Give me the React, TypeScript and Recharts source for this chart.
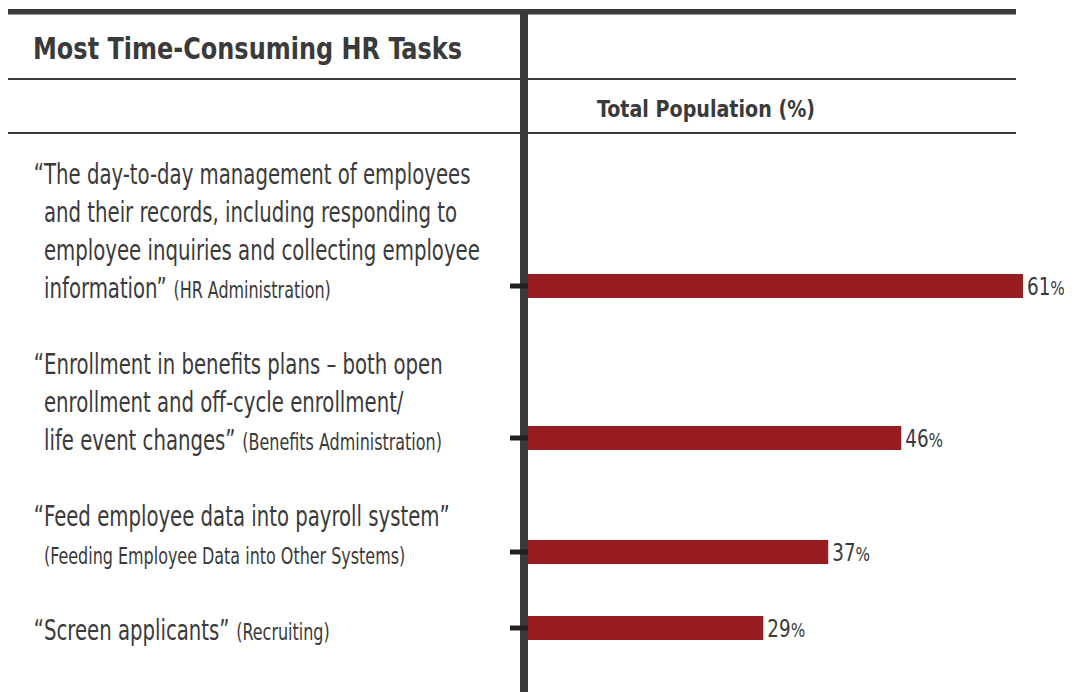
import React from "react";
import { BarChart, Bar, XAxis, YAxis, LabelList } from "recharts";

// ---- data ----
const chartTitle = "Most Time-Consuming HR Tasks";
const columnTitle = "Total Population (%)";
const taskQuotes: string[][] = [
  [
    "“The day-to-day management of employees",
    "and their records, including responding to",
    "employee inquiries and collecting employee",
    "information”",
  ],
  [
    "“Enrollment in benefits plans – both open",
    "enrollment and off-cycle enrollment/",
    "life event changes”",
  ],
  ["“Feed employee data into payroll system”", ""],
  ["“Screen applicants”"],
];
const taskCategories = [
  "(HR Administration)",
  "(Benefits Administration)",
  "(Feeding Employee Data into Other Systems)",
  "(Recruiting)",
];
const totalPopulation = [61, 46, 37, 29];

// ---- rows: one per text line, blank line between tasks ----
type Row = { key: string; main: string; sub: string; value: number | null };
const rows: Row[] = [];
taskQuotes.forEach((lines, i) => {
  lines.forEach((line, j) => {
    const last = j === lines.length - 1;
    rows.push({
      key: `t${i}l${j}`,
      main: line,
      sub: last ? taskCategories[i] : "",
      value: last ? totalPopulation[i] : null,
    });
  });
  if (i < taskQuotes.length - 1) rows.push({ key: `gap${i}`, main: "", sub: "", value: null });
});
const rowByKey = new Map(rows.map((r) => [r.key, r]));

const FONT =
  "'Liberation Sans Narrow', 'Arial Narrow', 'DejaVu Sans Condensed', 'Roboto Condensed', 'Liberation Sans', sans-serif";
const TEXT = "#3a3a3a";
const RULE = "#3a3a3a";
const BAR = "#981d20";
const SX = 0.755;
const MAIN_FS = 29;
const SUB_FS = 23.5;

function TaskTick(props: any) {
  const { y, payload } = props;
  const row = rowByKey.get(payload?.value);
  if (!row) return null;
  const hasQuote = row.main.startsWith("“");
  const main = hasQuote ? row.main.slice(1) : row.main;
  const baseY = Number(y) + 12;
  return (
    <g>
      {hasQuote && (
        <text
          transform={`translate(36, ${baseY}) scale(${SX},1)`}
          textAnchor="end"
          fontSize={MAIN_FS}
          fill={TEXT}
          fontFamily={FONT}
        >
          “
        </text>
      )}
      <text transform={`translate(36, ${baseY}) scale(${SX},1)`} fontSize={MAIN_FS} fill={TEXT} fontFamily={FONT}>
        {main}
        {row.sub ? (
          <tspan fontSize={SUB_FS} dx={main ? 9 : 0}>
            {row.sub}
          </tspan>
        ) : null}
      </text>
      {row.value != null && (
        <line x1={502} x2={520} y1={Number(y)} y2={Number(y)} stroke="#231f20" strokeWidth={5} />
      )}
    </g>
  );
}

function ValueLabel(props: any) {
  const { x, y, width, height, value } = props;
  if (value == null) return null;
  const tx = Number(x) + Number(width) + 4;
  const ty = Number(y) + Number(height) / 2 + 8.5;
  return (
    <text transform={`translate(${tx}, ${ty}) scale(0.85,1)`} fontSize={24} fill={TEXT} fontFamily={FONT}>
      {value}
      <tspan fontSize={20}>%</tspan>
    </text>
  );
}

export default function App() {
  const W = 1064;
  const H = 684;
  return (
    <div style={{ position: "relative", width: W, height: H, background: "#fff" }}>
      <svg width={W} height={H} style={{ position: "absolute", left: 0, top: 0 }}>
        <rect x={0} y={1} width={1008} height={5.5} fill={RULE} />
        <rect x={0} y={70} width={1008} height={2} fill={RULE} />
        <rect x={0} y={124} width={1008} height={2} fill={RULE} />
        <rect x={512} y={5} width={8} height={H - 5} fill={RULE} />
        <text
          x={25}
          y={51}
          fontSize={31}
          fontWeight="bold"
          fill={TEXT}
          fontFamily={FONT}
          textLength={429}
          lengthAdjust="spacingAndGlyphs"
        >
          {chartTitle}
        </text>
        <text
          x={589}
          y={109}
          fontSize={23}
          fontWeight="bold"
          fill={TEXT}
          fontFamily={FONT}
          textLength={218}
          lengthAdjust="spacingAndGlyphs"
        >
          {columnTitle}
        </text>
      </svg>
      <div style={{ position: "absolute", left: 0, top: 0 }}>
        <BarChart
          width={W}
          height={H}
          data={rows}
          layout="vertical"
          margin={{ top: 145, right: 49, bottom: 45, left: 0 }}
        >
          <XAxis type="number" hide domain={[0, "dataMax"]} />
          <YAxis
            type="category"
            dataKey="key"
            width={520}
            interval={0}
            axisLine={false}
            tickLine={false}
            tick={<TaskTick />}
          />
          <Bar dataKey="value" fill={BAR} barSize={24} isAnimationActive={false}>
            <LabelList dataKey="value" content={<ValueLabel />} />
          </Bar>
        </BarChart>
      </div>
    </div>
  );
}
